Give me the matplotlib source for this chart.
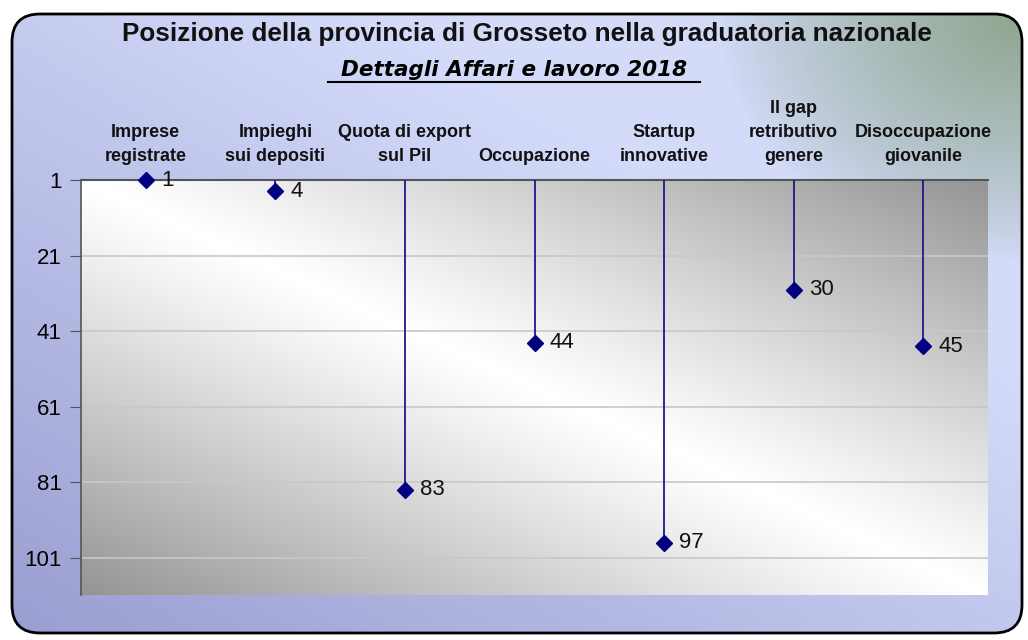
import numpy as np
import matplotlib.pyplot as plt
from matplotlib.patches import FancyBboxPatch
import matplotlib.transforms as mtransforms

plt.rcParams['font.family'] = ['Liberation Sans', 'DejaVu Sans']

categories = ['Imprese\nregistrate', 'Impieghi\nsui depositi', 'Quota di export\nsul Pil',
              'Occupazione', 'Startup\ninnovative', 'Il gap\nretributivo\ngenere',
              'Disoccupazione\ngiovanile']
positions = [1, 4, 83, 44, 97, 30, 45]
yticks = [1, 21, 41, 61, 81, 101]

W, H = 1028, 640
fig = plt.figure(figsize=(W / 100, H / 100), dpi=100)
fig.patch.set_facecolor('white')

# background panel with rounded border
bg = fig.add_axes([0, 0, 1, 1])
bg.set_xlim(0, W)
bg.set_ylim(H, 0)
bg.axis('off')
yy, xx = np.mgrid[0:1:200j, 0:1:320j]
t = np.clip(0.55 * (1 - xx) + 0.6 * yy - 0.35, 0, 1)
light = np.array([0.83, 0.86, 0.98])
dark = np.array([0.55, 0.56, 0.78])
img = light[None, None, :] * (1 - t[..., None]) + dark[None, None, :] * t[..., None]
# greenish tint in top-right corner
g = np.clip(1 - np.hypot((1 - xx) / 0.3, yy / 0.4), 0, 1) ** 0.8
green = np.array([0.56, 0.65, 0.56])
img = img * (1 - g[..., None]) + green[None, None, :] * g[..., None]
im = bg.imshow(img, extent=[12, 1022, 633, 14], aspect='auto', zorder=0)
box = FancyBboxPatch((12, 14), 1010, 619, boxstyle='round,pad=0,rounding_size=28',
                     facecolor='none', edgecolor='black', lw=2, zorder=2)
bg.add_patch(box)
im.set_clip_path(box)

# plot area
ax = fig.add_axes([81 / W, 1 - 595 / H, (988 - 81) / W, (595 - 180) / H])
ax.set_xlim(-0.5, len(categories) - 0.5)
ax.set_ylim(110.8, 1)
ax.set_facecolor('none')
u, v = np.meshgrid(np.linspace(0, 1, 300), np.linspace(0, 1, 200))
shade = 1 - 0.42 * np.abs(u - v) ** 1.1
ax.imshow(shade, cmap='gray', vmin=0, vmax=1, extent=[-0.5, len(categories) - 0.5, 110.8, 1],
          aspect='auto', zorder=0)
for yt in yticks[1:]:
    ax.axhline(yt, color='#c8c8c8', lw=1.2, zorder=1)

x = np.arange(len(categories))
ax.vlines(x, 1, positions, color='#1a1a8c', lw=1.3, zorder=3)
ax.plot(x, positions, 'D', color='#000080', ms=8.5, zorder=4, clip_on=False)
for xi, p in zip(x, positions):
    ax.annotate(str(p), (xi, p), xytext=(11, 0), textcoords='offset points',
                va='center', ha='left', fontsize=16, color='#111111', zorder=5)

ax.set_yticks(yticks)
ax.set_xticks([])
ax.tick_params(axis='y', direction='out', length=8, labelsize=16, pad=6, colors='#555555',
               labelcolor='black')
for s in ['right', 'bottom']:
    ax.spines[s].set_visible(False)
ax.spines['left'].set_color('#555555')
ax.spines['top'].set_color('#555555')
ax.spines['left'].set_linewidth(1.2)
ax.spines['top'].set_linewidth(1.5)

trans = mtransforms.blended_transform_factory(ax.transData, ax.transAxes)
for xi, c in zip(x, categories):
    ax.text(xi, 1.035, c, transform=trans, ha='center', va='bottom', fontsize=13,
            fontweight='bold', linespacing=1.55, color='#111111')

fig.text(527 / W, 1 - 34 / H, 'Posizione della provincia di Grosseto nella graduatoria nazionale',
         ha='center', va='center', fontsize=18.8, fontweight='bold', color='#111111')
fig.text(514 / W, 1 - 70 / H, 'Dettagli Affari e lavoro 2018', ha='center', va='center',
         fontsize=15.5, fontweight='bold', style='italic', family=['DejaVu Sans'])
bg.plot([328, 700], [82, 82], color='black', lw=1.5, zorder=3)

fig.savefig('out.png', dpi=100)
